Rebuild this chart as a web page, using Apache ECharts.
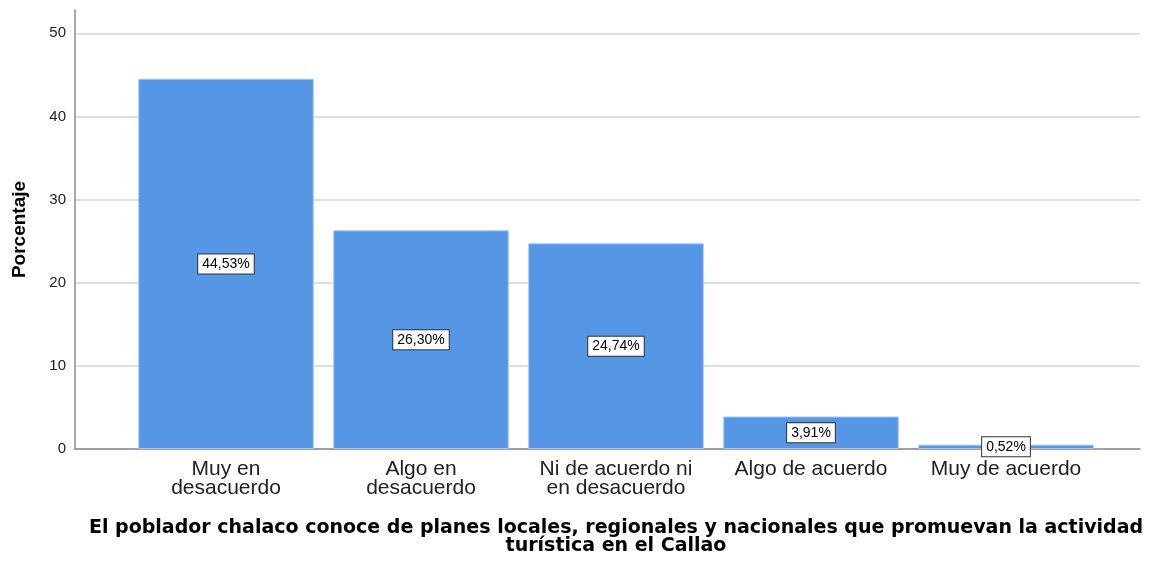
<!DOCTYPE html>
<html>
<head>
<meta charset="utf-8">
<script src="https://cdn.jsdelivr.net/npm/echarts@6/dist/echarts.min.js"></script>
<style>
  html, body { margin: 0; padding: 0; background: #fff; }
  #chart { width: 1154px; height: 561px; }
</style>
</head>
<body>
<div id="chart"></div>
<script>
  // categorias y porcentajes
  var categorias = ['Muy en\ndesacuerdo', 'Algo en\ndesacuerdo', 'Ni de acuerdo ni\nen desacuerdo', 'Algo de acuerdo', 'Muy de acuerdo'];
  var porcentajes = [44.53, 26.30, 24.74, 3.91, 0.52];
  var yMax = 52.8;
  var tituloX = 'El poblador chalaco conoce de planes locales, regionales y nacionales que promuevan la actividad\nturística en el Callao';

  var myChart = echarts.init(document.getElementById('chart'));
  var fuente = 'Liberation Sans, Arial, sans-serif';

  var option = {
    animation: false,
    grid: [
      // marco completo: eje y, lineas de division
      { left: 75, right: 14, top: 10, bottom: 112, outerBoundsMode: 'none', containLabel: false },
      // zona de las barras
      { left: 128.5, right: 50.5, top: 10, bottom: 112, outerBoundsMode: 'none', containLabel: false }
    ],
    xAxis: [
      {
        gridIndex: 0,
        type: 'value',
        min: 0,
        max: 1,
        axisLine: { show: true, lineStyle: { color: '#8c8c8c', width: 1.5 } },
        axisTick: { show: false },
        axisLabel: { show: false },
        splitLine: { show: false }
      },
      {
        gridIndex: 1,
        type: 'category',
        data: categorias,
        axisLine: { show: false },
        axisTick: { show: false },
        axisLabel: {
          color: '#222',
          fontFamily: fuente,
          fontSize: 21,
          lineHeight: 19,
          margin: 11,
          interval: 0
        }
      }
    ],
    yAxis: [
      {
        gridIndex: 0,
        type: 'value',
        min: 0,
        max: yMax,
        interval: 10,
        name: 'Porcentaje',
        nameLocation: 'middle',
        nameRotate: 90,
        nameGap: 46,
        nameTextStyle: { color: '#000', fontFamily: fuente, fontSize: 19, fontWeight: 'bold' },
        axisLine: { show: true, lineStyle: { color: '#8c8c8c', width: 1.5 } },
        axisTick: { show: false },
        axisLabel: {
          color: '#222',
          fontFamily: fuente,
          fontSize: 15,
          margin: 9,
          showMaxLabel: false
        },
        splitLine: { show: true, showMaxLine: false, lineStyle: { color: '#d4d4d4', width: 1.5 } }
      },
      {
        gridIndex: 1,
        type: 'value',
        min: 0,
        max: yMax,
        show: false
      }
    ],
    graphic: [{
      type: 'text',
      x: 616,
      y: 519,
      style: {
        text: tituloX,
        textAlign: 'center',
        fill: '#000',
        font: 'bold 19px DejaVu Sans, sans-serif',
        lineHeight: 18
      }
    }],
    series: [{
      type: 'bar',
      xAxisIndex: 1,
      yAxisIndex: 1,
      data: porcentajes,
      barCategoryGap: '10%',
      itemStyle: { color: '#5596e5', borderColor: '#a4c6f0', borderWidth: 1 },
      label: {
        show: true,
        position: 'inside',
        color: '#000',
        fontFamily: fuente,
        fontSize: 14,
        backgroundColor: '#fff',
        borderColor: '#333',
        borderWidth: 1,
        padding: [3, 4, 2, 4],
        formatter: function (p) {
          return p.value.toFixed(2).replace('.', ',') + '%';
        }
      }
    }]
  };

  myChart.setOption(option);
</script>
</body>
</html>
